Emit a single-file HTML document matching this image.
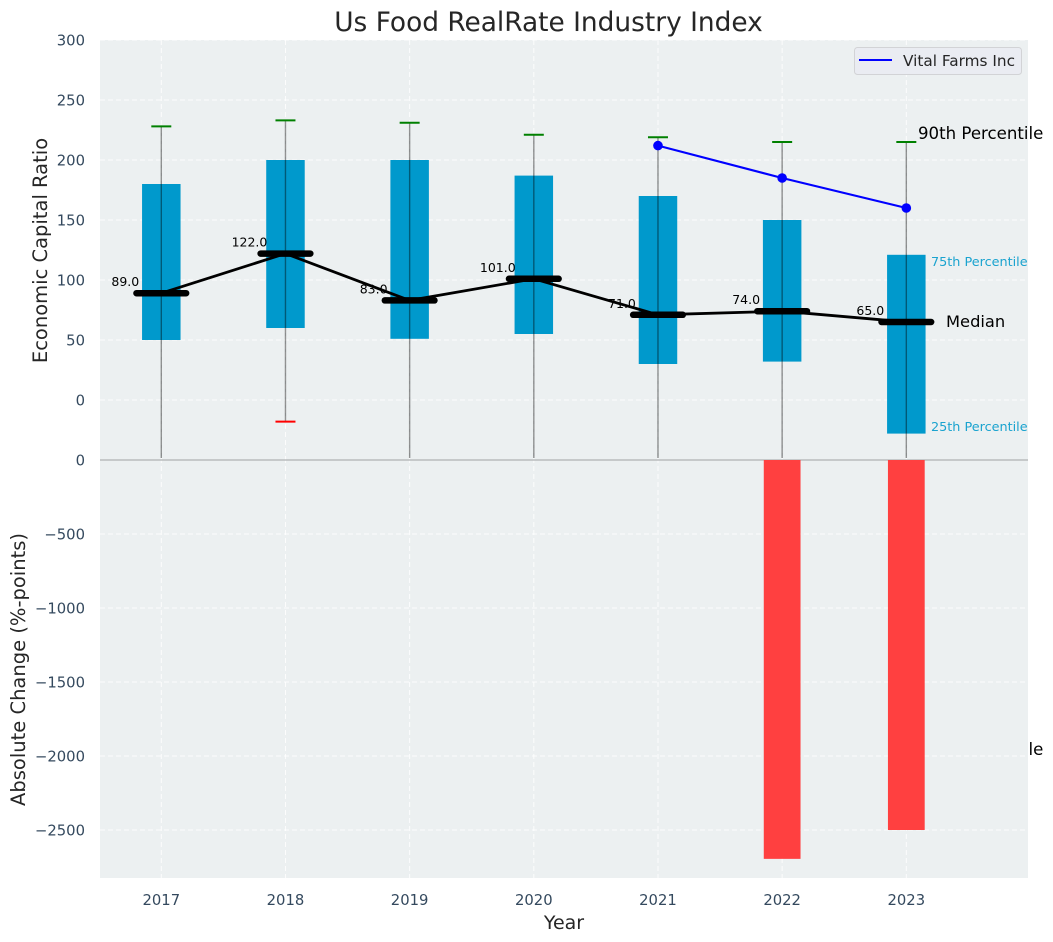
<!DOCTYPE html>
<html lang="en">
<head>
<meta charset="utf-8">
<title>Us Food RealRate Industry Index</title>
<style>
html,body{margin:0;padding:0;background:#fff;}
svg{display:block;font-family:"DejaVu Sans","Liberation Sans",sans-serif;}
</style>
</head>
<body>
<svg id="chart" width="1053" height="942" viewBox="0 0 1053 942" xmlns="http://www.w3.org/2000/svg"></svg>
<script>
const years = [2017, 2018, 2019, 2020, 2021, 2022, 2023];
const p25 = [50, 60, 51, 55, 30, 32, -28];
const p75 = [180, 200, 200, 187, 170, 150, 121];
const medians = [89, 122, 83, 101, 71, 74, 65];
const p90 = [228, 233, 231, 221, 219, 215, 215];
const p10 = [-50, -18, -50, -50, -50, -50, -50];
const companyYears = [2021, 2022, 2023];
const companyValues = [212, 185, 160];
const changeYears = [2022, 2023];
const changeValues = [-2695, -2500];
const topTicks = [0, 50, 100, 150, 200, 250, 300];
const bottomTicks = [0, -500, -1000, -1500, -2000, -2500];

const NS = 'http://www.w3.org/2000/svg';
const svg = document.getElementById('chart');
const L = 100, R = 1028, T = 40, SPLIT = 458, B = 878;
const x = function (yr) { return 161.3 + (yr - 2017) * 124.17; };
const yTop = function (v) { return 400 - v * 1.2; };
const yBot = function (v) { return 460 - v * 0.148; };
const halfBox = 0.155 * 124.17;
const halfBar = 0.148 * 124.17;
const halfMed = 0.2 * 124.17;
const halfCap = 10;

function el(tag, attrs, text) {
  const e = document.createElementNS(NS, tag);
  for (const k in attrs) e.setAttribute(k, attrs[k]);
  if (text !== undefined) e.textContent = text;
  svg.appendChild(e);
  return e;
}
function fmtTick(v) { return v < 0 ? '\u2212' + Math.abs(v) : String(v); }
const GRID = {stroke: '#ffffff', 'stroke-width': 1, 'stroke-dasharray': '5 3', 'stroke-opacity': 0.85};
const INK = '#262626', TICK = '#34495e', BLUE = '#0099cc';

let n;
n = el('rect', {x: L, y: T, width: R - L, height: SPLIT - T, fill: '#ecf0f1'});



topTicks.forEach(function (v) {
  const g = el('line', Object.assign({x1: L, x2: R, y1: yTop(v), y2: yTop(v)}, GRID));
  
  
  const t = el('text', {x: 85, y: yTop(v) + 5.5, 'text-anchor': 'end', 'font-size': 14.8, fill: TICK}, fmtTick(v));
  
  
});
years.forEach(function (yr) {
  const g = el('line', Object.assign({x1: x(yr), x2: x(yr), y1: T, y2: SPLIT}, GRID));
  
  
});

years.forEach(function (yr, i) {
  const b = el('rect', {x: x(yr) - halfBox, y: yTop(p75[i]), width: halfBox * 2, height: yTop(p25[i]) - yTop(p75[i]), fill: BLUE});
  
  
});
years.forEach(function (yr, i) {
  const w = el('line', {x1: x(yr), x2: x(yr), y1: yTop(p90[i]), y2: yTop(p10[i]), stroke: '#000', 'stroke-opacity': 0.42, 'stroke-width': 1.4});
  
  
  const c1 = el('line', {x1: x(yr) - halfCap, x2: x(yr) + halfCap, y1: yTop(p90[i]), y2: yTop(p90[i]), stroke: '#008000', 'stroke-width': 2});
  
  
  const c2 = el('line', {x1: x(yr) - halfCap, x2: x(yr) + halfCap, y1: yTop(p10[i]), y2: yTop(p10[i]), stroke: '#ff0000', 'stroke-width': 2});
  
  
});

const medianPts = years.map(function (yr, i) { return x(yr) + ',' + yTop(medians[i]); }).join(' ');
n = el('polyline', {points: medianPts, fill: 'none', stroke: '#000', 'stroke-width': 2.8});



years.forEach(function (yr, i) {
  const m = el('line', {x1: x(yr) - halfMed, x2: x(yr) + halfMed, y1: yTop(medians[i]), y2: yTop(medians[i]), stroke: '#000', 'stroke-width': 6.5, 'stroke-linecap': 'round'});
  
  
  const t = el('text', {x: x(yr) - 36, y: yTop(medians[i]) - 7, 'text-anchor': 'middle', 'font-size': 12.5, fill: '#000'}, medians[i].toFixed(1));
  
  
});

const companyPts = companyYears.map(function (yr, i) { return x(yr) + ',' + yTop(companyValues[i]); }).join(' ');
n = el('polyline', {points: companyPts, fill: 'none', stroke: '#0000ff', 'stroke-width': 2.1});


companyYears.forEach(function (yr, i) {
  const d = el('circle', {cx: x(yr), cy: yTop(companyValues[i]), r: 4.8, fill: '#0000ff'});
  
  
});

n = el('text', {x: 918, y: 755, 'font-size': 16.6, fill: '#000'}, '10th Percentile');



n = el('rect', {x: L, y: SPLIT, width: R - L, height: B - SPLIT, fill: '#ecf0f1'});



bottomTicks.forEach(function (v) {
  const g = el('line', Object.assign({x1: L, x2: R, y1: yBot(v), y2: yBot(v)}, GRID));
  
  
  const t = el('text', {x: 85, y: yBot(v) + 5.5, 'text-anchor': 'end', 'font-size': 14.8, fill: TICK}, fmtTick(v));
  
  
});
years.forEach(function (yr) {
  const g = el('line', Object.assign({x1: x(yr), x2: x(yr), y1: SPLIT, y2: B}, GRID));
  
  
  const t = el('text', {x: x(yr), y: 905, 'text-anchor': 'middle', 'font-size': 14.8, fill: TICK}, String(yr));
  
  
});

n = el('line', {x1: L, x2: R, y1: yBot(0), y2: yBot(0), stroke: '#b9bcbe', 'stroke-width': 1.4});



changeYears.forEach(function (yr, i) {
  const b = el('rect', {x: x(yr) - halfBar, y: yBot(0), width: halfBar * 2, height: yBot(changeValues[i]) - yBot(0), fill: '#ff4040'});
  
  
});

n = el('text', {x: 918, y: 139, 'font-size': 16.6, fill: '#000'}, '90th Percentile');


n = el('text', {x: 946, y: 327, 'font-size': 16.3, fill: '#000'}, 'Median');


n = el('text', {x: 931, y: 266, 'font-size': 12.8, fill: '#1aa3cf'}, '75th Percentile');


n = el('text', {x: 931, y: 431, 'font-size': 12.8, fill: '#1aa3cf'}, '25th Percentile');



n = el('rect', {x: 854.5, y: 47.5, width: 167, height: 27, rx: 3, fill: '#eaecf2', stroke: '#d2d3d6', 'stroke-width': 1});


n = el('line', {x1: 859, x2: 892, y1: 60, y2: 60, stroke: '#0000ff', 'stroke-width': 2});


n = el('text', {x: 903, y: 66, 'font-size': 15.3, fill: INK}, 'Vital Farms Inc');



n = el('text', {x: 548.5, y: 31, 'text-anchor': 'middle', 'font-size': 26.4, fill: INK}, 'Us Food RealRate Industry Index');


n = el('text', {x: 564, y: 929, 'text-anchor': 'middle', 'font-size': 19, fill: INK}, 'Year');


n = el('text', {transform: 'translate(47,250.5) rotate(-90)', 'text-anchor': 'middle', 'font-size': 19.5, fill: INK}, 'Economic Capital Ratio');


n = el('text', {transform: 'translate(25,669.5) rotate(-90)', 'text-anchor': 'middle', 'font-size': 19.5, fill: INK}, 'Absolute Change (%-points)');


</script>
</body>
</html>
